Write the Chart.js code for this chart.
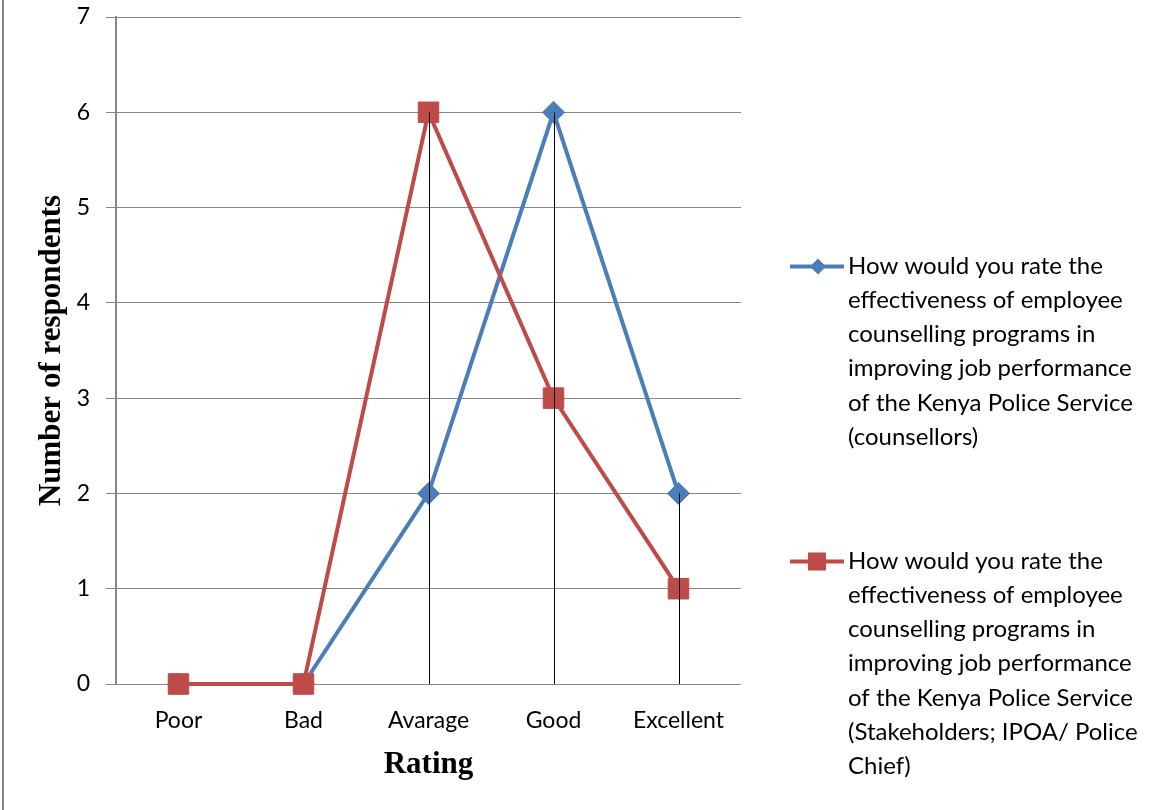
<!DOCTYPE html>
<html>
<head>
<meta charset="utf-8">
<script src="https://cdn.jsdelivr.net/npm/chart.js@4/dist/chart.umd.min.js"></script>
<style>
  html, body { margin: 0; padding: 0; background: #fff; }
  #wrap { position: relative; width: 1168px; height: 810px; }
  canvas { display: block; }
</style>
</head>
<body>
<div id="wrap"><canvas id="c" width="1168" height="810"></canvas></div>
<script>
// Rating categories and respondent counts for each group
const categories = ['Poor', 'Bad', 'Avarage', 'Good', 'Excellent'];
const counsellors = [0, 0, 2, 6, 2];
const stakeholders = [0, 0, 6, 3, 1];
const yTicks = [0, 1, 2, 3, 4, 5, 6, 7];

const counsellorsLabel = [
  'How would you rate the',
  'effectiveness of employee',
  'counselling programs in',
  'improving job performance',
  'of the Kenya Police Service',
  '(counsellors)'
];
const stakeholdersLabel = [
  'How would you rate the',
  'effectiveness of employee',
  'counselling programs in',
  'improving job performance',
  'of the Kenya Police Service',
  '(Stakeholders; IPOA/ Police',
  'Chief)'
];

const BLUE = '#4A7EBB';
const RED = '#BE4B48';
const GRID = '#868686';
const TEXT_FONT = 'Lato, "Open Sans", sans-serif';

// Black drop lines from the highest point of each category down to the axis
const dropLines = {
  id: 'dropLines',
  afterDatasetsDraw(chart) {
    const { ctx, scales: { x, y } } = chart;
    ctx.save();
    ctx.strokeStyle = '#000';
    ctx.lineWidth = 1;
    categories.forEach((c, i) => {
      const top = Math.max(counsellors[i], stakeholders[i]);
      if (top <= 0) return;
      const px = Math.round(x.getPixelForValue(i)) + 0.5;
      ctx.beginPath();
      ctx.moveTo(px, y.getPixelForValue(top));
      ctx.lineTo(px, y.getPixelForValue(0));
      ctx.stroke();
    });
    ctx.restore();
  }
};

// Legend on the right with wrapped series names
const sideLegend = {
  id: 'sideLegend',
  afterDraw(chart) {
    const { ctx } = chart;
    const entries = [
      { lines: counsellorsLabel, color: BLUE, marker: 'diamond', top: 266 },
      { lines: stakeholdersLabel, color: RED, marker: 'square', top: 561 }
    ];
    ctx.save();
    ctx.font = '24px ' + TEXT_FONT;
    ctx.textBaseline = 'middle';
    ctx.fillStyle = '#000';
    entries.forEach(e => {
      e.lines.forEach((t, k) => ctx.fillText(t, 848, e.top + k * 34.2));
      const cy = e.top + 0.5;
      ctx.strokeStyle = e.color;
      ctx.lineWidth = 4;
      ctx.beginPath();
      ctx.moveTo(790, cy);
      ctx.lineTo(844, cy);
      ctx.stroke();
      ctx.fillStyle = e.color;
      if (e.marker === 'diamond') {
        ctx.beginPath();
        ctx.moveTo(818, cy - 8);
        ctx.lineTo(826, cy);
        ctx.lineTo(818, cy + 8);
        ctx.lineTo(810, cy);
        ctx.closePath();
        ctx.fill();
      } else {
        ctx.fillRect(808, cy - 9, 18, 18);
      }
      ctx.fillStyle = '#000';
    });
    // outer frame edge on the left
    ctx.strokeStyle = GRID;
    ctx.lineWidth = 2;
    ctx.beginPath();
    ctx.moveTo(3, 0);
    ctx.lineTo(3, 810);
    ctx.stroke();
    ctx.restore();
  }
};

new Chart(document.getElementById('c'), {
  type: 'line',
  data: {
    labels: categories,
    datasets: [
      {
        label: counsellorsLabel.join(' '),
        data: counsellors,
        borderColor: BLUE,
        backgroundColor: BLUE,
        borderWidth: 4,
        pointStyle: 'rectRot',
        pointRadius: 11,
        pointBorderWidth: 1,
        pointHoverRadius: 11,
        tension: 0,
        clip: false,
        order: 1
      },
      {
        label: stakeholdersLabel.join(' '),
        data: stakeholders,
        borderColor: RED,
        backgroundColor: RED,
        borderWidth: 4,
        pointStyle: 'rect',
        pointRadius: 14.5,
        pointBorderWidth: 1,
        pointHoverRadius: 14.5,
        tension: 0,
        clip: false,
        order: 0
      }
    ]
  },
  options: {
    responsive: false,
    animation: false,
    events: [],
    layout: { padding: { top: 17, left: 0, right: 427, bottom: 0 } },
    plugins: {
      legend: { display: false },
      tooltip: { enabled: false }
    },
    scales: {
      x: {
        offset: true,
        grid: { display: false, drawTicks: false },
        border: { display: false },
        ticks: {
          color: '#000',
          font: { family: TEXT_FONT, size: 23 },
          padding: 23,
          maxRotation: 0
        },
        title: {
          display: true,
          text: 'Rating',
          color: '#000',
          font: { family: '"Liberation Serif", "Times New Roman", serif', size: 31, weight: 'bold' },
          padding: { top: 0, bottom: 26 }
        },
        afterFit(scale) {
          scale.height = 126;
          scale.paddingLeft = 0;
          scale.paddingRight = 0;
        }
      },
      y: {
        min: 0,
        max: 7,
        afterBuildTicks(scale) { scale.ticks = yTicks.map(v => ({ value: v })); },
        grid: { color: GRID, lineWidth: 1, tickLength: 10, drawTicks: true },
        border: { display: true, color: GRID, width: 2 },
        ticks: {
          color: '#000',
          font: { family: TEXT_FONT, size: 23 },
          padding: 16
        },
        title: {
          display: true,
          text: 'Number of respondents',
          color: '#000',
          font: { family: '"Liberation Serif", "Times New Roman", serif', size: 31, weight: 'bold' },
          padding: { top: 33, bottom: 0 }
        },
        afterFit(scale) {
          scale.width = 116;
          scale.paddingTop = 0;
          scale.paddingBottom = 0;
        }
      }
    }
  },
  plugins: [dropLines, sideLegend]
});
</script>
</body>
</html>
